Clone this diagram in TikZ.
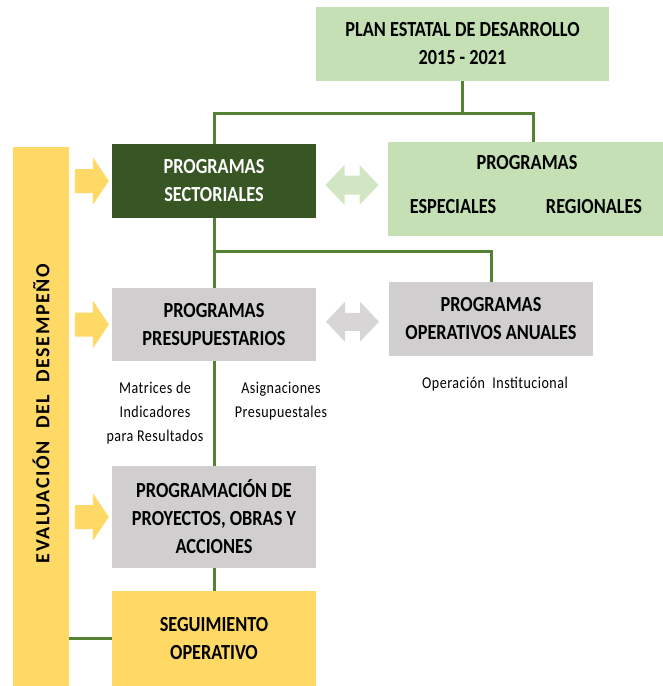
\documentclass[tikz,border=0pt]{standalone}
\usepackage{fontspec}
\setmainfont{Carlito}[FakeStretch=0.85]
\newfontfamily\barfont{Carlito}[LetterSpace=8]
\newfontfamily\notefont{Carlito}[FakeStretch=0.85,LetterSpace=3]
\usepackage{tikz}
\usetikzlibrary{calc}

\definecolor{darkgreen}{HTML}{375623}
\definecolor{lightgreen}{HTML}{C5E0B4}
\definecolor{boxgray}{HTML}{D0CECE}
\definecolor{boxyellow}{HTML}{FFD966}
\definecolor{linegreen}{HTML}{548235}

\begin{document}
\begin{tikzpicture}[x=1pt,y=-1pt,
    box/.style={inner sep=0pt,align=center,font=\bfseries\fontsize{21.5}{28}\selectfont},
    link/.style={draw=linegreen,line width=3pt},
    note/.style={inner sep=0pt,align=center,font=\notefont\fontsize{16.5}{24}\selectfont}]
\useasboundingbox (0,0) rectangle (663,686);
% boxes
\node[box,fill=lightgreen,minimum width=293,minimum height=74] (plan) at (462.5,44)
    {PLAN ESTATAL DE DESARROLLO\\2015 - 2021};
\node[box,fill=darkgreen,text=white,minimum width=204,minimum height=74] (sect) at (214,181)
    {PROGRAMAS\\SECTORIALES};
\node[box,fill=lightgreen,minimum width=275,minimum height=94] (espec) at (525.5,189) {};
\node[box] (espectit) at (527,163) {PROGRAMAS};
\node[box] (especiales) at (453,207) {ESPECIALES};
\node[box] (regionales) at (594,207) {REGIONALES};
\node[box,fill=boxgray,minimum width=204,minimum height=73] (presup) at (214,324.5)
    {PROGRAMAS\\PRESUPUESTARIOS};
\node[box,fill=boxgray,minimum width=204,minimum height=74] (poa) at (491,319)
    {PROGRAMAS\\OPERATIVOS ANUALES};
\node[box,fill=boxgray,minimum width=204,minimum height=102] (progra) at (214,517)
    {PROGRAMACIÓN DE\\PROYECTOS, OBRAS Y\\ACCIONES};
\node[box,fill=boxyellow,minimum width=204,minimum height=95] (segui) at (214,638.5)
    {SEGUIMIENTO\\OPERATIVO};
\node[fill=boxyellow,inner sep=0pt,minimum width=56,minimum height=539] (bar) at (41,416.5) {};
\node[rotate=90,inner sep=0pt,font=\barfont\bfseries\fontsize{20}{24}\selectfont] (bartxt) at ([yshift=3pt]bar.center)
    {EVALUACIÓN\ \ DEL\ \ DESEMPEÑO};
% notes
\node[note] (matrices) at (155,413) {Matrices de\\Indicadores\\para Resultados};
\node[note] (asign) at (281,401.5) {Asignaciones\\Presupuestales};
\node[note] (oper) at (495,384) {Operación\ \ Institucional};
% links
\draw[link] (plan.south) -- ++(0,32) coordinate (j1);
\draw[link] (sect.north) |- (j1) -| ([xshift=7.5pt]espec.north);
\draw[link] (sect.south) -- (presup.north);
\draw[link] (sect.south) ++(0,33) -| (poa.north);
\draw[link] (presup.south) -- (progra.north);
\draw[link] (progra.south) -- (segui.north);
\draw[link] (segui.west) -- (segui.west -| bar.east);
% yellow arrows
\foreach \n in {sect,presup,progra}
  \fill[boxyellow] ([xshift=-3pt]\n.west) -- ++(-16,-24) -- ++(0,12) -- ++(-18,0)
    -- ++(0,24) -- ++(18,0) -- ++(0,12) -- cycle;
% double arrows
\fill[lightgreen!80!white] ($(sect.east)!.5!(espec.west)$) ++(-26.5,0) -- ++(19,-20) -- ++(0,10.5)
    -- ++(15,0) -- ++(0,-10.5) -- ++(19,20) -- ++(-19,20) -- ++(0,-10.5) -- ++(-15,0)
    -- ++(0,10.5) -- cycle;
\fill[boxgray!85!white] ($(presup.east)!.5!(poa.west)$) ++(-26.5,0) -- ++(19,-20) -- ++(0,11)
    -- ++(15,0) -- ++(0,-11) -- ++(19,20) -- ++(-19,20) -- ++(0,-11) -- ++(-15,0)
    -- ++(0,11) -- cycle;
\end{tikzpicture}
\end{document}
